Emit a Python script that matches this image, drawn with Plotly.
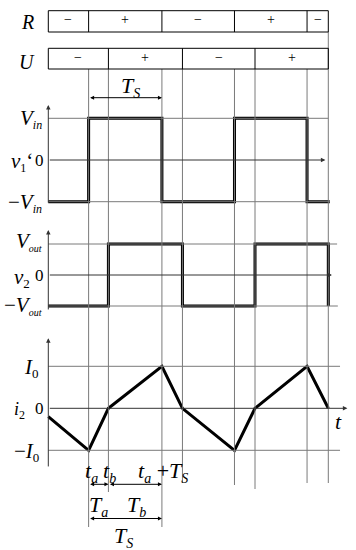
import plotly.graph_objects as go

# ---------------- data (time in units of T_S) ----------------
t_a = 0.55
t_b = 0.82
t_end = 3.82
v1_edges = [0.55, 1.55, 2.54, 3.53]          # switching instants of v1'
v1_levels = [-1, 1, -1, 1, -1]               # v1' / Vin between edges
v2_edges = [0.82, 1.83, 2.82, 3.82]          # switching instants of v2
v2_levels = [-1, 1, -1, 1, -1]               # v2 / Vout between edges
i2_t = [0, 0.55, 0.82, 1.55, 1.83, 2.54, 2.82, 3.53, 3.82]
i2_v = [-0.2, -1, 0, 1, 0, -1, 0, 1, 0]      # i2 / I0
R_bounds = [0, 0.55, 1.55, 2.54, 3.53, 3.82]
R_signs = ["\u2212", "+", "\u2212", "+", "\u2212"]
U_bounds = [0, 0.82, 1.83, 2.82, 3.82]
U_signs = ["\u2212", "+", "\u2212", "+"]
grid_t = [0.55, 0.82, 1.55, 1.83, 2.54, 2.82, 3.53, 3.82]

# ---------------- layout helpers ----------------
W, H = 356, 550
X0, XS = 48.3, 73.3           # pixel of t=0, pixels per T_S
FONT = "Liberation Serif"
GRID = "#7a7a7a"

def xr(px):
    return (px - X0) / XS

def yp(px):
    return 1 - px / H

def xp(px):
    return px / W

# panel axes: (zero pixel, pixels per unit)
panels = {"y": (160.0, 41.7), "y2": (275.0, 31.0), "y3": (408.3, 42.0)}

def yv(ax, px):
    z, s = panels[ax]
    return (z - px) / s

def step(edges, levels, t0, t1):
    t, v = [t0], [levels[0]]
    for e, a, b in zip(edges, levels[:-1], levels[1:]):
        t += [e, e]
        v += [a, b]
    t.append(t1)
    v.append(levels[-1])
    return t, v

def sub(s, size=12, italic=True):
    inner = f"<i>{s}</i>" if italic else s
    return f"<sub><span style='font-size:{size}px'>{inner}</span></sub>"

fig = go.Figure()
shapes = []
ann = []

# vertical grid lines
tops = [69, 69, 69, 69, 69, 69, 69, 32]
bots = [527, 492, 527, 483, 485, 489, 483, 483]
for t, tp, bt in zip(grid_t, tops, bots):
    shapes.append(dict(type="line", xref="x", yref="paper", x0=t, x1=t,
                       y0=yp(tp), y1=yp(bt), line=dict(color=GRID, width=1)))

# horizontal grid lines at +/-1 per panel
grid_end = {"y": (3.82, 3.84), "y2": (3.94, 3.95), "y3": (3.98, 3.98)}
for ax, (e1, e2) in grid_end.items():
    for lev, e in ((1, e1), (-1, e2)):
        shapes.append(dict(type="line", xref="x", yref=ax, x0=0, x1=e,
                           y0=lev, y1=lev, line=dict(color=GRID, width=1)))

# axes with arrows
axis_spec = {"y": (1.32, -1.06, 3.78), "y2": (1.45, -1.16, 3.87), "y3": (1.67, -1.42, 4.08)}
for ax, (top, bot, right) in axis_spec.items():
    ann.append(dict(x=0, y=top, ax=0, ay=bot, xref="x", yref=ax, axref="x", ayref=ax,
                    text="", showarrow=True, arrowhead=2, arrowsize=0.9, arrowwidth=1,
                    arrowcolor="#333", standoff=0, startstandoff=0))
    ann.append(dict(x=right, y=0, ax=0, ay=0, xref="x", yref=ax, axref="x", ayref=ax,
                    text="", showarrow=True, arrowhead=2, arrowsize=0.9, arrowwidth=1,
                    arrowcolor="#333", standoff=0, startstandoff=0))

# waveforms
t1, v1 = step(v1_edges, v1_levels, 0, 3.84)
t2, v2 = step(v2_edges, v2_levels, 0, 3.82)
v2 = v2[:-1]; t2 = t2[:-1]
fig.add_trace(go.Scatter(x=t1, y=v1, mode="lines", yaxis="y",
                         line=dict(color="black", width=3), hoverinfo="skip"))
fig.add_trace(go.Scatter(x=t2, y=v2, mode="lines", yaxis="y2",
                         line=dict(color="black", width=3), hoverinfo="skip"))
fig.add_trace(go.Scatter(x=i2_t, y=i2_v, mode="lines", yaxis="y3",
                         line=dict(color="black", width=3), hoverinfo="skip"))

# R / U boxes
for bounds, signs, ytop, ybot in ((R_bounds, R_signs, 10.7, 32.0),
                                  (U_bounds, U_signs, 48.3, 69.0)):
    shapes.append(dict(type="rect", xref="x", yref="paper", x0=bounds[0], x1=bounds[-1],
                       y0=yp(ybot), y1=yp(ytop), line=dict(color="black", width=1)))
    for b in bounds[1:-1]:
        shapes.append(dict(type="line", xref="x", yref="paper", x0=b, x1=b,
                           y0=yp(ybot), y1=yp(ytop), line=dict(color="black", width=1)))
    for a, b, s in zip(bounds[:-1], bounds[1:], signs):
        ann.append(dict(x=(a + b) / 2, y=yp((ytop + ybot) / 2 - 1.5), xref="x", yref="paper",
                        text=s, showarrow=False, xanchor="center", yanchor="middle",
                        font=dict(family=FONT, size=14, color="black")))

def label(x, y, text, size=20, xanchor="center"):
    ann.append(dict(x=xp(x), y=yp(y), xref="paper", yref="paper", text=text,
                    showarrow=False, xanchor=xanchor, yanchor="middle",
                    font=dict(family=FONT, size=size, color="black")))

label(27, 22, "<i>R</i>", 20)
label(27, 62, "<i>U</i>", 20)

# panel 1 labels
label(44, 119, "<i>V</i>" + sub("in", 12), 21, "right")
label(35, 162, "<i>v</i>" + sub("1", 12, False) + "\u2018", 21, "right")
label(46, 160, "0", 17, "right")
label(44, 203, "\u2212<i>V</i>" + sub("in", 12), 21, "right")
# panel 2 labels
label(44, 241, "<i>V</i>" + sub("out", 10), 21, "right")
label(32, 278, "<i>v</i>" + sub("2", 13, False), 21, "right")
label(46, 275, "0", 17, "right")
label(44, 305, "\u2212<i>V</i>" + sub("out", 10), 21, "right")
# panel 3 labels
label(41, 368, "<i>I</i>" + sub("0", 13, False), 21, "right")
label(27, 410, "<i>i</i>" + sub("2", 12, False), 18, "right")
label(46, 408, "0", 17, "right")
label(41, 452, "\u2212<i>I</i>" + sub("0", 13, False), 21, "right")
label(338, 421, "<i>t</i>", 22)

# T_S over top arrow
label(130, 87, "<i>T</i>" + sub("S", 14), 22)

# bottom time labels
label(91, 472, "<i>t</i>" + sub("a", 14), 22)
label(110, 472, "<i>t</i>" + sub("b", 14), 22)
label(163, 472, "<i>t</i>" + sub("a", 14) + " +<i>T</i>" + sub("S", 14), 22)
label(98, 506, "<i>T</i>" + sub("a", 14), 22)
label(136, 506, "<i>T</i>" + sub("b", 14), 22)
label(123, 537, "<i>T</i>" + sub("S", 14), 22)

# double-headed dimension arrows
def dim(x0, x1, px_y, ax="y3"):
    y = yv(ax, px_y)
    ann.append(dict(x=x1, y=y, ax=x0, ay=y, xref="x", yref=ax, axref="x", ayref=ax,
                    text="", showarrow=True, arrowhead=2, startarrowhead=2,
                    arrowside="end+start", arrowsize=0.8, startarrowsize=0.8,
                    arrowwidth=1, arrowcolor="black", standoff=0, startstandoff=0))

dim(t_a, t_a + 1, 97.7, "y")
dim(t_a, t_b, 484.3)
dim(t_b, t_a + 1, 484.3)
dim(t_a, t_a + 1, 518.5)

def yaxis_for(ax, overlay):
    z, s = panels[ax]
    d = dict(range=[-(H - z) / s, z / s], visible=False, fixedrange=True)
    if overlay:
        d.update(overlaying="y")
    return d

fig.update_layout(
    width=W, height=H, autosize=False,
    margin=dict(l=0, r=0, t=0, b=0),
    paper_bgcolor="white", plot_bgcolor="white",
    showlegend=False,
    xaxis=dict(range=[xr(0), xr(W)], visible=False, fixedrange=True),
    yaxis=yaxis_for("y", False),
    yaxis2=yaxis_for("y2", True),
    yaxis3=yaxis_for("y3", True),
    shapes=shapes,
    annotations=ann,
)

fig.write_html("out.html", config={"displayModeBar": False},
               post_script="document.body.style.margin='0';document.body.style.overflow='hidden';")
